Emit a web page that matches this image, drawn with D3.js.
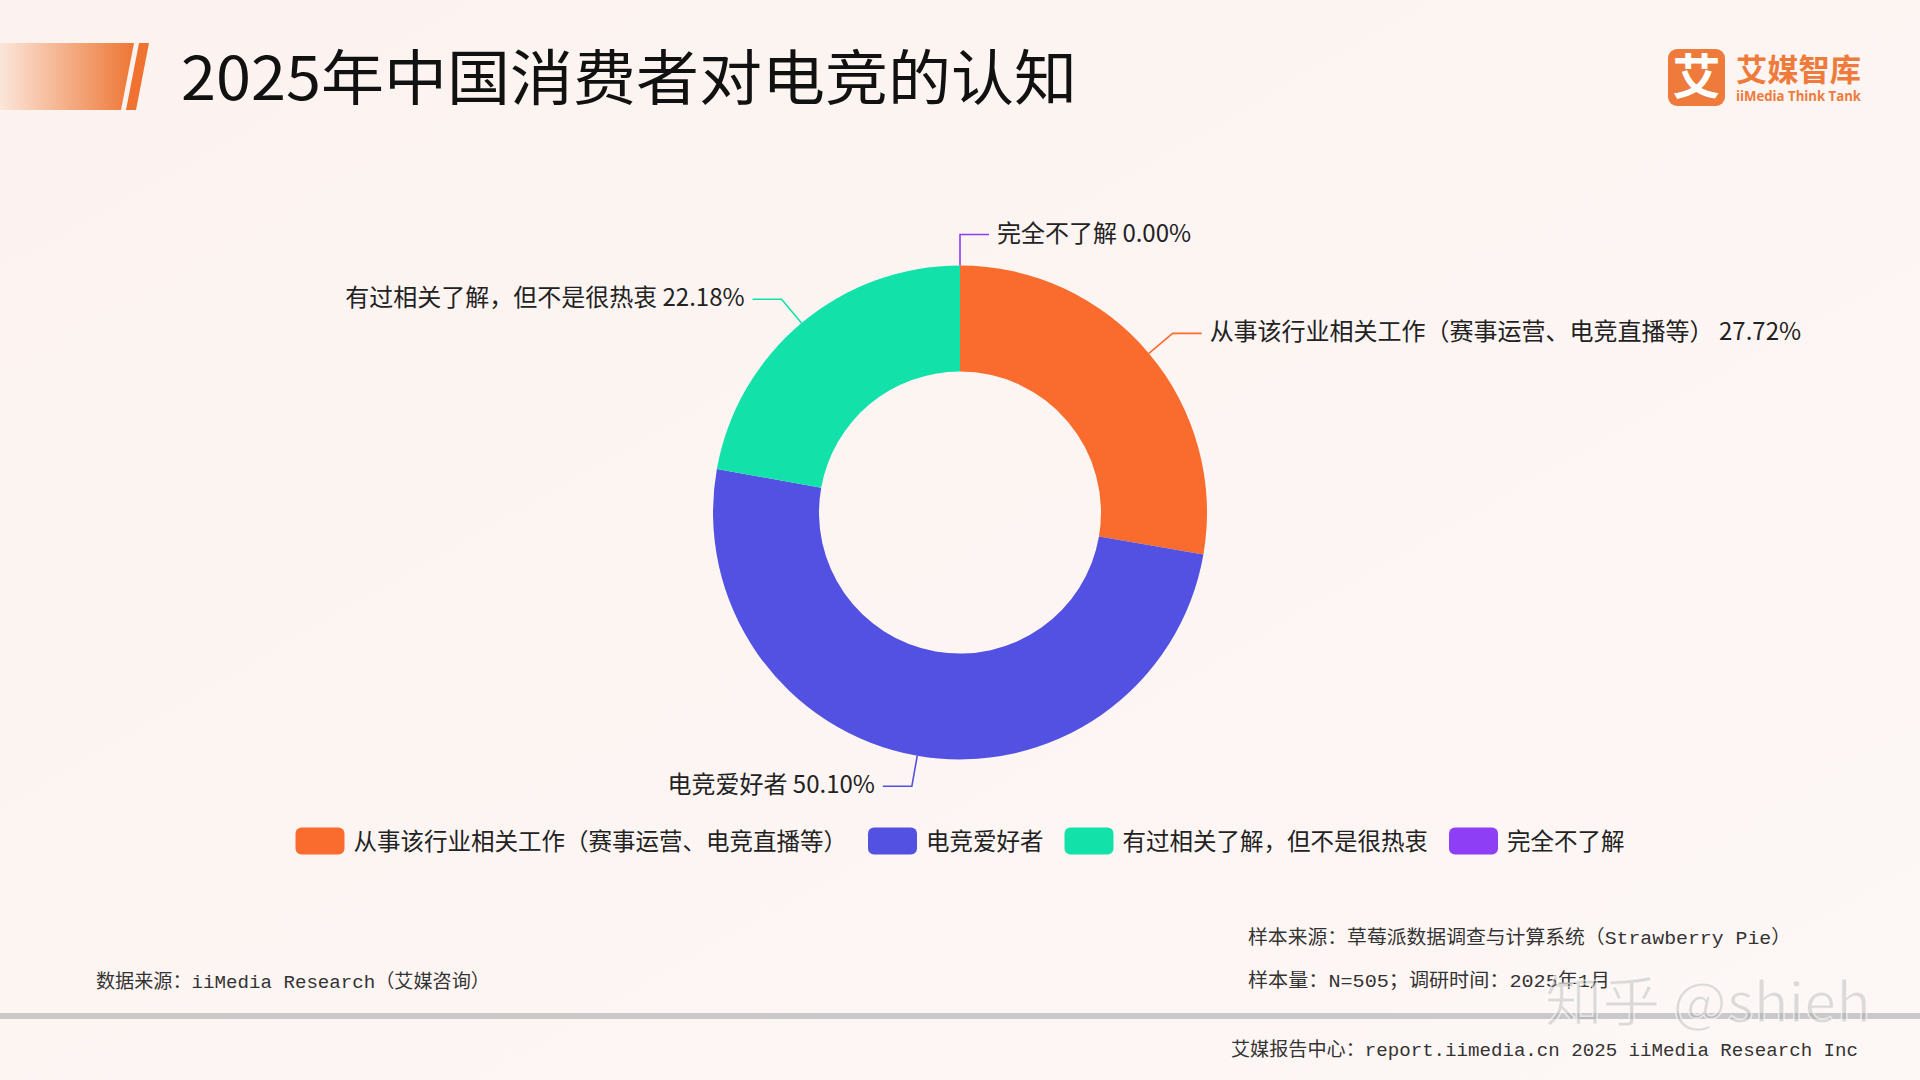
<!DOCTYPE html>
<html>
<head>
<meta charset="utf-8">
<script src="https://cdn.jsdelivr.net/npm/d3@7"></script>
<style>
  html, body { margin: 0; padding: 0; background: #fcf5f2; }
  svg { display: block; }
</style>
</head>
<body>
<svg id="chart" width="1920" height="1080"></svg>
<script>
// ---- data ----
const title = "2025年中国消费者对电竞的认知";
const categories = [
  "从事该行业相关工作（赛事运营、电竞直播等）",
  "电竞爱好者",
  "有过相关了解，但不是很热衷",
  "完全不了解"
];
const values = [27.72, 50.10, 22.18, 0.00];
const sliceColors = ["#fa6c2e", "#5351e2", "#12e1aa", "#8e3ef4"];
const footerLeft = "数据来源：iiMedia Research（艾媒咨询）";
const footerRight1 = "样本来源：草莓派数据调查与计算系统（Strawberry Pie）";
const footerRight2 = "样本量：N=505；调研时间：2025年1月";
const footerBottom = "艾媒报告中心：report.iimedia.cn  2025 iiMedia Research Inc";

const CJK = "'Noto Sans CJK SC', 'Noto Sans', sans-serif";
const MONO = "'Liberation Mono', 'DejaVu Sans Mono', 'Noto Sans CJK SC', monospace";

const svg = d3.select("#chart");

// background
const defs = svg.append("defs");
const bg = defs.append("linearGradient").attr("id", "bgGrad")
  .attr("x1", "0").attr("y1", "0").attr("x2", "1").attr("y2", "1");
bg.append("stop").attr("offset", "0").attr("stop-color", "#fcf3f0");
bg.append("stop").attr("offset", "1").attr("stop-color", "#fdf7f5");
svg.append("rect").attr("width", 1920).attr("height", 1080).attr("fill", "url(#bgGrad)");

// header banner
const bannerGrad = defs.append("linearGradient").attr("id", "bannerGrad")
  .attr("x1", "0").attr("y1", "0").attr("x2", "1").attr("y2", "0");
bannerGrad.append("stop").attr("offset", "0").attr("stop-color", "#fbe6da");
bannerGrad.append("stop").attr("offset", "1").attr("stop-color", "#ee7634");
svg.append("polygon").attr("points", "0,43 134,43 121,110 0,110").attr("fill", "url(#bannerGrad)");
svg.append("polygon").attr("points", "139,43 149,43 136,110 126,110").attr("fill", "#ef7230");

svg.append("text")
  .attr("x", 181).attr("y", 100)
  .attr("font-family", CJK).attr("font-size", 60).attr("fill", "#111")
  .attr("textLength", 896).attr("lengthAdjust", "spacingAndGlyphs")
  .text(title);

// logo
svg.append("rect").attr("x", 1668).attr("y", 49).attr("width", 57).attr("height", 57)
  .attr("rx", 9).attr("fill", "#ee7b3b");
svg.append("text").attr("x", 1696.5).attr("y", 94).attr("text-anchor", "middle")
  .attr("font-family", CJK).attr("font-weight", "bold").attr("font-size", 48).attr("fill", "#fff")
  .text("艾");
svg.append("text").attr("x", 1736).attr("y", 81)
  .attr("font-family", CJK).attr("font-weight", "bold").attr("font-size", 31).attr("fill", "#ee7b3b")
  .attr("textLength", 125).attr("lengthAdjust", "spacingAndGlyphs")
  .text("艾媒智库");
svg.append("text").attr("x", 1736).attr("y", 101)
  .attr("font-family", "'Open Sans', sans-serif").attr("font-weight", "bold").attr("font-size", 13.5).attr("fill", "#ee7b3b")
  .attr("textLength", 125).attr("lengthAdjust", "spacingAndGlyphs")
  .text("iiMedia Think Tank");

// ---- donut ----
const cx = 960, cy = 512.5, rOuter = 247, rInner = 141;
const pie = d3.pie().sort(null).value(d => d.value);
const data = categories.map((c, i) => ({ name: c, value: values[i], color: sliceColors[i] }));
const arcs = pie(data);
const arc = d3.arc().innerRadius(rInner).outerRadius(rOuter);

const g = svg.append("g").attr("transform", `translate(${cx},${cy})`);
g.selectAll("path.slice").data(arcs).join("path")
  .attr("class", "slice")
  .attr("d", arc)
  .attr("fill", d => d.data.color);

// labels with leader lines
const rElbow = 278, len2 = 29;
arcs.forEach(d => {
  const mid = (d.startAngle + d.endAngle) / 2;
  const s = Math.sin(mid), c = -Math.cos(mid);
  const side = s < -1e-6 ? -1 : 1;
  const p0 = [rOuter * s, rOuter * c];
  const p1 = [rElbow * s, rElbow * c];
  const p2 = [p1[0] + side * len2, p1[1]];
  g.append("polyline")
    .attr("points", [p0, p1, p2].map(p => p.join(",")).join(" "))
    .attr("fill", "none").attr("stroke", d.data.color).attr("stroke-width", 1.6);
  g.append("text")
    .attr("x", p2[0] + side * 8).attr("y", p2[1] - 3.5)
    .attr("dominant-baseline", "central")
    .attr("text-anchor", side > 0 ? "start" : "end")
    .attr("font-family", CJK).attr("font-size", 24).attr("fill", "#222")
    .text(d.data.name + " " + d.data.value.toFixed(2) + "%");
});

// ---- legend ----
const legend = svg.append("g");
let lx = 0;
const legendY = 841;
data.forEach(d => {
  const item = legend.append("g").attr("transform", `translate(${lx},0)`);
  item.append("rect").attr("x", 0).attr("y", legendY - 13.5).attr("width", 49).attr("height", 27)
    .attr("rx", 6).attr("fill", d.color);
  const t = item.append("text").attr("x", 58).attr("y", legendY - 1)
    .attr("dominant-baseline", "central")
    .attr("font-family", CJK).attr("font-size", 23.5).attr("fill", "#222")
    .text(d.name);
  lx += 58 + t.node().getComputedTextLength() + 21;
});
const legendW = lx - 21;
legend.attr("transform", `translate(${960 - legendW / 2},0)`);

// ---- footer ----
svg.append("text").attr("x", 96).attr("y", 988)
  .attr("font-family", MONO).attr("font-size", 19).attr("fill", "#333")
  .attr("textLength", 394).attr("lengthAdjust", "spacingAndGlyphs")
  .text(footerLeft);
svg.append("text").attr("x", 1248).attr("y", 944)
  .attr("font-family", MONO).attr("font-size", 19).attr("fill", "#333")
  .attr("textLength", 543).attr("lengthAdjust", "spacingAndGlyphs")
  .text(footerRight1);
svg.append("text").attr("x", 1248).attr("y", 987)
  .attr("font-family", MONO).attr("font-size", 19).attr("fill", "#333")
  .attr("textLength", 362).attr("lengthAdjust", "spacingAndGlyphs")
  .text(footerRight2);
svg.append("rect").attr("x", 0).attr("y", 1013).attr("width", 1920).attr("height", 6).attr("fill", "#c9c9c9");
svg.append("text").attr("x", 1231).attr("y", 1056)
  .attr("font-family", MONO).attr("font-size", 19).attr("fill", "#333")
  .attr("textLength", 627).attr("lengthAdjust", "spacingAndGlyphs")
  .text(footerBottom);

// watermark
svg.append("text").attr("x", 1545).attr("y", 1022)
  .attr("font-family", CJK).attr("font-size", 54).attr("fill", "rgba(160,160,160,0.35)")
  .attr("stroke", "rgba(255,255,255,0.6)").attr("stroke-width", 1.5)
  .attr("textLength", 326).attr("lengthAdjust", "spacingAndGlyphs")
  .text("知乎 @shieh");
</script>
</body>
</html>
